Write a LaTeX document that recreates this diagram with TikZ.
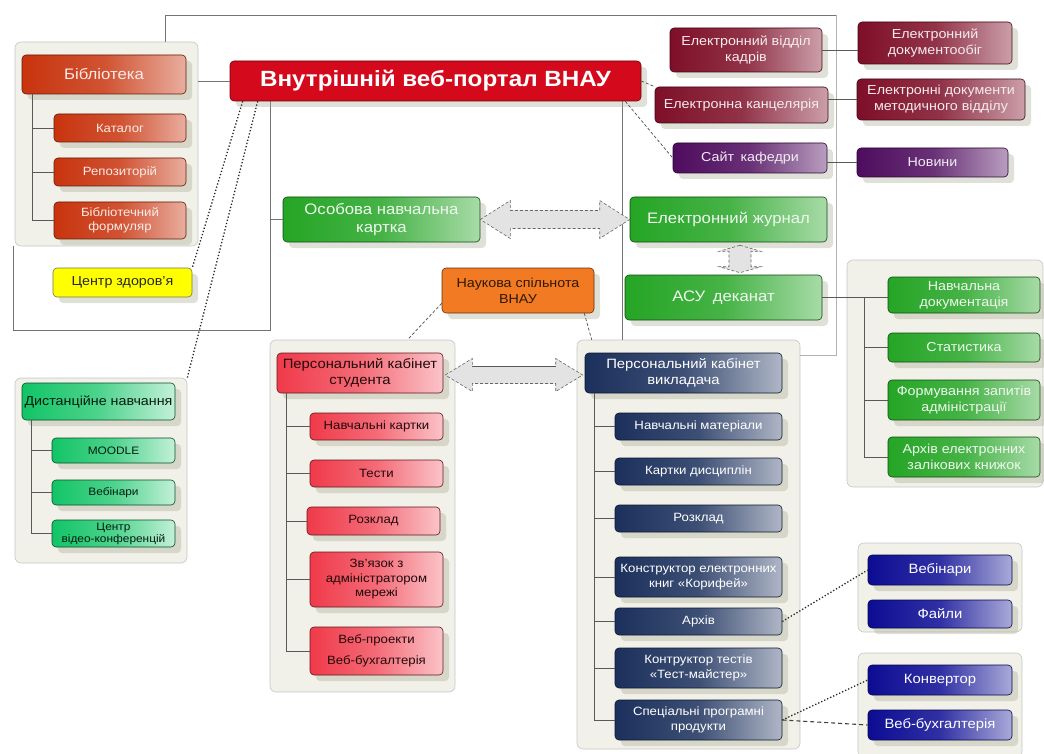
\documentclass[tikz,border=0pt]{standalone}
\usepackage{fontspec}
\setmainfont{Liberation Sans}[FakeStretch=1.1]
\usetikzlibrary{calc,shadows}

\definecolor{panelbg}{HTML}{F1F1E9}
\definecolor{shadowc}{HTML}{A4A890}
\definecolor{libred}{HTML}{C8340E}
\definecolor{portalred}{HTML}{D40A1C}
\definecolor{maroonc}{HTML}{7E0F28}
\definecolor{plumc}{HTML}{4E0C5E}
\definecolor{leafgreen}{HTML}{25A525}
\definecolor{sciorange}{HTML}{F27A22}
\definecolor{studred}{HTML}{F03A4A}
\definecolor{teachnavy}{HTML}{1B305C}
\definecolor{fileblue}{HTML}{0C0C94}
\definecolor{distgreen}{HTML}{12C466}
\definecolor{healthyellow}{HTML}{FFFF00}

\tikzset{
  panel/.style={draw=gray!45, fill=panelbg, rounded corners=6pt, line width=.6pt, inner sep=0pt},
  box/.style={rounded corners=4pt, line width=.6pt, align=center, inner sep=1pt,
    drop shadow={shadow xshift=6pt, shadow yshift=-6pt, fill=shadowc, opacity=.35}},
  fxs/.style={font=\fontsize{10.8}{12}\selectfont},
  fs/.style={font=\fontsize{12}{14.5}\selectfont},
  fm/.style={font=\fontsize{13}{16}\selectfont},
  fl/.style={font=\fontsize{13.5}{16.5}\selectfont},
  fh/.style={font=\fontsize{15.2}{18.5}\selectfont},
  libbox/.style={box, draw=libred!50!black, left color=libred, right color=libred!40!white, middle color=libred!85!white, text=white!90!libred},
  portalbox/.style={box, draw=portalred!50!black, fill=portalred, text=white, font=\fontsize{22}{24}\bfseries\selectfont},
  maroonbox/.style={box, draw=maroonc!50!black, left color=maroonc, right color=maroonc!40!white, middle color=maroonc!85!white, text=white!92!maroonc},
  plumbox/.style={box, draw=plumc!50!black, left color=plumc, right color=plumc!40!white, middle color=plumc!85!white, text=white!92!plumc},
  greenbox/.style={box, draw=leafgreen!45!black, left color=leafgreen, right color=leafgreen!40!white, middle color=leafgreen!85!white, text=white!92!leafgreen},
  scibox/.style={box, draw=sciorange!40!black, fill=sciorange, text=black!80!sciorange},
  healthbox/.style={box, draw=black!60!yellow, fill=healthyellow, text=black!85},
  distbox/.style={box, draw=distgreen!40!black, left color=distgreen, right color=distgreen!25!white, middle color=distgreen!75!white, text=black!85!distgreen},
  studbox/.style={box, draw=studred!40!black, left color=studred, right color=studred!30!white, middle color=studred!75!white, text=black!85!studred},
  teachbox/.style={box, draw=teachnavy!50!black, left color=teachnavy, right color=teachnavy!35!white, middle color=teachnavy!85!white, text=white},
  bluebox/.style={box, draw=fileblue!50!black, left color=fileblue, right color=fileblue!35!white, middle color=fileblue!85!white, text=white},
  tline/.style={draw=black!65, line width=.8pt},
  frame/.style={draw=black!55, line width=.8pt},
  dotline/.style={draw=black!85, line width=1.3pt, dotted},
  dashline/.style={draw=black!70, line width=.7pt, densely dashed},
  longdash/.style={draw=black!75, line width=1.1pt, dash pattern=on 4pt off 3pt},
  dblarrow/.style={fill=gray!22, draw=black!60, line width=.6pt, densely dashed}
}

\begin{document}
\begin{tikzpicture}[x=1pt,y=-1pt]
	\useasboundingbox (0,0) rectangle (1044,754);
	% panels
	\node[panel, minimum width=183pt, minimum height=204pt] (libpanel) at (106.5,144) {};
	\node[panel, minimum width=172pt, minimum height=185pt] (distpanel) at (101,470.5) {};
	\node[panel, minimum width=185pt, minimum height=352pt] (studpanel) at (362.5,516) {};
	\node[panel, minimum width=223pt, minimum height=409pt] (teachpanel) at (688.5,544.5) {};
	\node[panel, minimum width=196pt, minimum height=227pt] (asupanel) at (945,373.5) {};
	\node[panel, minimum width=164pt, minimum height=89pt] (archpanel) at (940,587.5) {};
	\node[panel, minimum width=164pt, minimum height=105pt] (progpanel) at (940,705.5) {};
	% frame lines
	\draw[frame] (libpanel.north -| 165,0) -- (165,15) -- (836,15);
	\draw[frame, draw=black!30] (836,15) -- (836,355) -- (teachpanel.east |- 0,355);
	\draw[frame] (libpanel.south -| 13,0) -- (13,330) -- (270,330) -- (270,101);
	\draw[frame] (622,101) -- (teachpanel.north -| 622,0);
	% library
	\node[libbox, fh, minimum width=164pt, minimum height=39pt] (libhead) at (104,74.5) {Бібліотека};
	\node[libbox, fs, minimum width=132pt, minimum height=28pt] (libcat) at (120,128) {Каталог};
	\node[libbox, fs, minimum width=132pt, minimum height=28pt] (librepo) at (120,172) {Репозиторій};
	\node[libbox, fs, minimum width=132pt, minimum height=37pt] (libform) at (120,220.5) {Бібліотечний\\формуляр};
	% portal
	\node[portalbox, minimum width=411pt, minimum height=40pt] (portal) at (435.5,81) {Внутрішній веб-портал ВНАУ};
	% top right
	\node[maroonbox, fm, minimum width=152pt, minimum height=44pt] (kadry) at (746,50) {Електронний відділ\\кадрів};
	\node[maroonbox, fm, minimum width=154pt, minimum height=42pt] (docflow) at (935,43) {Електронний\\документообіг};
	\node[maroonbox, fm, minimum width=173pt, minimum height=36pt] (kanc) at (741.5,105) {Електронна канцелярія};
	\node[maroonbox, fm, minimum width=168pt, minimum height=41pt] (metod) at (941,99.5) {Електронні документи\\методичного відділу};
	\node[plumbox, fm, minimum width=154pt, minimum height=30pt] (kafedra) at (750,158) {Сайт\enspace кафедри};
	\node[plumbox, fm, minimum width=151pt, minimum height=29pt] (news) at (932.5,162.5) {Новини};
	% green
	\node[greenbox, fh, minimum width=197pt, minimum height=45pt] (card) at (381.5,219.5) {Особова навчальна\\картка};
	\node[greenbox, fh, minimum width=197pt, minimum height=45pt] (journal) at (728.5,219.5) {Електронний журнал};
	\node[greenbox, fh, minimum width=197pt, minimum height=45pt] (asu) at (723.5,297.5) {АСУ\enspace деканат};
	% science, health
	\node[scibox, fm, minimum width=152pt, minimum height=45pt] (science) at (518,290.5) {Наукова спільнота\\ВНАУ};
	\node[healthbox, fm, minimum width=139pt, minimum height=29pt] (health) at (122.5,282.5) {Центр здоров'я};
	% distance learning
	\node[distbox, fm, minimum width=153pt, minimum height=37pt] (disthead) at (98.5,401.5) {Дистанційне навчання};
	\node[distbox, fxs, minimum width=123pt, minimum height=25pt] (moodle) at (113.5,450.5) {MOODLE};
	\node[distbox, fxs, minimum width=123pt, minimum height=25pt] (distweb) at (113.5,492.5) {Вебінари};
	\node[distbox, fxs, minimum width=123pt, minimum height=27pt] (videoconf) at (113.5,533.5) {Центр\\відео-конференцій};
	% student
	\node[studbox, fl, minimum width=166pt, minimum height=40pt] (studhead) at (360,373) {Персональний кабінет\\студента};
	\node[studbox, fs, minimum width=133pt, minimum height=27pt] (studcards) at (376.5,426.5) {Навчальні картки};
	\node[studbox, fs, minimum width=133pt, minimum height=27pt] (studtests) at (376.5,473.5) {Тести};
	\node[studbox, fs, minimum width=133pt, minimum height=28pt] (studsched) at (373.5,521) {Розклад};
	\node[studbox, fs, minimum width=133pt, minimum height=55pt] (studadmin) at (376.5,579.5) {Зв'язок з\\адміністратором\\мережі};
	\node[studbox, fs, minimum width=133pt, minimum height=48pt] (studweb) at (376.5,651) {Веб-проекти\\[6pt]Веб-бухгалтерія};
	% teacher
	\node[teachbox, fl, minimum width=197pt, minimum height=40pt] (teachhead) at (683.5,373) {Персональний кабінет\\викладача};
	\node[teachbox, fs, minimum width=167pt, minimum height=27pt] (teachmat) at (698.5,426.5) {Навчальні матеріали};
	\node[teachbox, fs, minimum width=167pt, minimum height=27pt] (teachcards) at (698.5,471.5) {Картки дисциплін};
	\node[teachbox, fs, minimum width=167pt, minimum height=27pt] (teachsched) at (698.5,518.5) {Розклад};
	\node[teachbox, fs, minimum width=167pt, minimum height=40pt] (teachbooks) at (698.5,577) {Конструктор електронних\\книг «Корифей»};
	\node[teachbox, fs, minimum width=167pt, minimum height=27pt] (teacharch) at (698.5,621.5) {Архів};
	\node[teachbox, fs, minimum width=167pt, minimum height=40pt] (teachtests) at (698.5,668) {Контруктор тестів\\«Тест-майстер»};
	\node[teachbox, fs, minimum width=167pt, minimum height=40pt] (teachsoft) at (698.5,720) {Спеціальні програмні\\продукти};
	% dean office items
	\node[greenbox, fm, minimum width=152pt, minimum height=36pt] (asudocs) at (964,295) {Навчальна\\документація};
	\node[greenbox, fm, minimum width=152pt, minimum height=29pt] (asustat) at (964,347.5) {Статистика};
	\node[greenbox, fm, minimum width=152pt, minimum height=40pt] (asureq) at (964,400) {Формування запитів\\адміністрації};
	\node[greenbox, fm, minimum width=152pt, minimum height=40pt] (asurec) at (964,457) {Архів електронних\\залікових книжок};
	% archive and programs
	\node[bluebox, fl, minimum width=144pt, minimum height=30pt] (webinars) at (940,570) {Вебінари};
	\node[bluebox, fl, minimum width=144pt, minimum height=28pt] (files) at (940,614) {Файли};
	\node[bluebox, fl, minimum width=144pt, minimum height=30pt] (converter) at (940,680) {Конвертор};
	\node[bluebox, fl, minimum width=144pt, minimum height=30pt] (accounting) at (940,725) {Веб-бухгалтерія};
	% connectors
	\draw[frame] (portal.west -| libpanel.east) -- (portal.west);
	\draw[frame] (card.west -| 270,0) -- (card.west);
	\draw[tline] (kadry.east) -- (kadry.east -| docflow.west);
	\draw[tline] (metod.west -| kanc.east) -- (metod.west);
	\draw[tline] (news.west -| kafedra.east) -- (news.west);
	\draw[tline] ($(libhead.south west)+(11,0)$) |- (libcat.west);
	\draw[tline] ($(libhead.south west)+(11,0)$) |- (librepo.west);
	\draw[tline] ($(libhead.south west)+(11,0)$) |- (libform.west);
	\draw[tline] ($(disthead.south west)+(10,0)$) |- (moodle.west);
	\draw[tline] ($(disthead.south west)+(10,0)$) |- (distweb.west);
	\draw[tline] ($(disthead.south west)+(10,0)$) |- (videoconf.west);
	\draw[tline] ($(studhead.south west)+(10,0)$) |- (studcards.west);
	\draw[tline] ($(studhead.south west)+(10,0)$) |- (studtests.west);
	\draw[tline] ($(studhead.south west)+(10,0)$) |- (studsched.west);
	\draw[tline] ($(studhead.south west)+(10,0)$) |- (studadmin.west);
	\draw[tline] ($(studhead.south west)+(10,0)$) |- (studweb.west);
	\draw[tline] ($(teachhead.south west)+(10,0)$) |- (teachmat.west);
	\draw[tline] ($(teachhead.south west)+(10,0)$) |- (teachcards.west);
	\draw[tline] ($(teachhead.south west)+(10,0)$) |- (teachsched.west);
	\draw[tline] ($(teachhead.south west)+(10,0)$) |- (teachbooks.west);
	\draw[tline] ($(teachhead.south west)+(10,0)$) |- (teacharch.west);
	\draw[tline] ($(teachhead.south west)+(10,0)$) |- (teachtests.west);
	\draw[tline] ($(teachhead.south west)+(10,0)$) |- (teachsoft.west);
	\draw[tline] (asu.east) -- (asu.east -| asudocs.west);
	\draw[tline] ($(asu.east -| asudocs.west)+(-23,0)$) |- (asustat.west);
	\draw[tline] ($(asu.east -| asudocs.west)+(-23,0)$) |- (asureq.west);
	\draw[tline] ($(asu.east -| asudocs.west)+(-23,0)$) |- (asurec.west);
	\draw[dotline] ($(portal.south west)+(13,0)$) -- (health.north east);
	\draw[dotline] ($(portal.south west)+(28,0)$) -- (distpanel.north east);
	\draw[dashline] (portal.east) -- (kanc.north west);
	\draw[dashline] ($(portal.south east)+(-16,0)$) -- (kafedra.west);
	\draw[dashline] ($(science.south west)+(0,-10)$) -- ($(studpanel.north)+(45,0)$);
	\draw[dashline] ($(science.south east)+(-10,0)$) -- ($(teachpanel.north west)+(15,0)$);
	\draw[dotline] (teacharch.east) -- (webinars.west);
	\draw[dotline] (teachsoft.east) -- (converter.west);
	\draw[longdash] (teachsoft.east) -- (accounting.west);
	% double arrows
	\filldraw[dblarrow] (card.east) -- ++(30,-19) -- ++(0,10) -- ($(journal.west)+(-30,-9)$) -- ++(0,-10) -- (journal.west)
		-- ++(-30,19) -- ++(0,-10) -- ($(card.east)+(30,9)$) -- ++(0,10) -- cycle;
	\coordinate (stA) at ($(studhead.east)+(2,2)$);
	\coordinate (stB) at ($(teachhead.west)+(-2,2)$);
	\filldraw[dblarrow] (stA) -- ++(27,-16.5) -- ++(0,8) -- ($(stB)+(-27,-8.5)$) -- ++(0,-8) -- (stB)
		-- ++(-27,16.5) -- ++(0,-8) -- ($(stA)+(27,8.5)$) -- ++(0,8) -- cycle;
	\draw[tline] ($(stA)+(27,-8.5)$) -- ($(stB)+(-27,-8.5)$);
	\coordinate (vA) at ($(journal.south -| 740,0)+(0,3)$);
	\coordinate (vB) at ($(asu.north -| 740,0)+(0,-2)$);
	\filldraw[dblarrow] (vA) -- ++(21,6) -- ++(-10,0) -- ($(vB)+(11,-6)$) -- ++(10,0) -- (vB)
		-- ++(-21,-6) -- ++(10,0) -- ($(vA)+(-11,6)$) -- ++(-10,0) -- cycle;
\end{tikzpicture}
\end{document}
